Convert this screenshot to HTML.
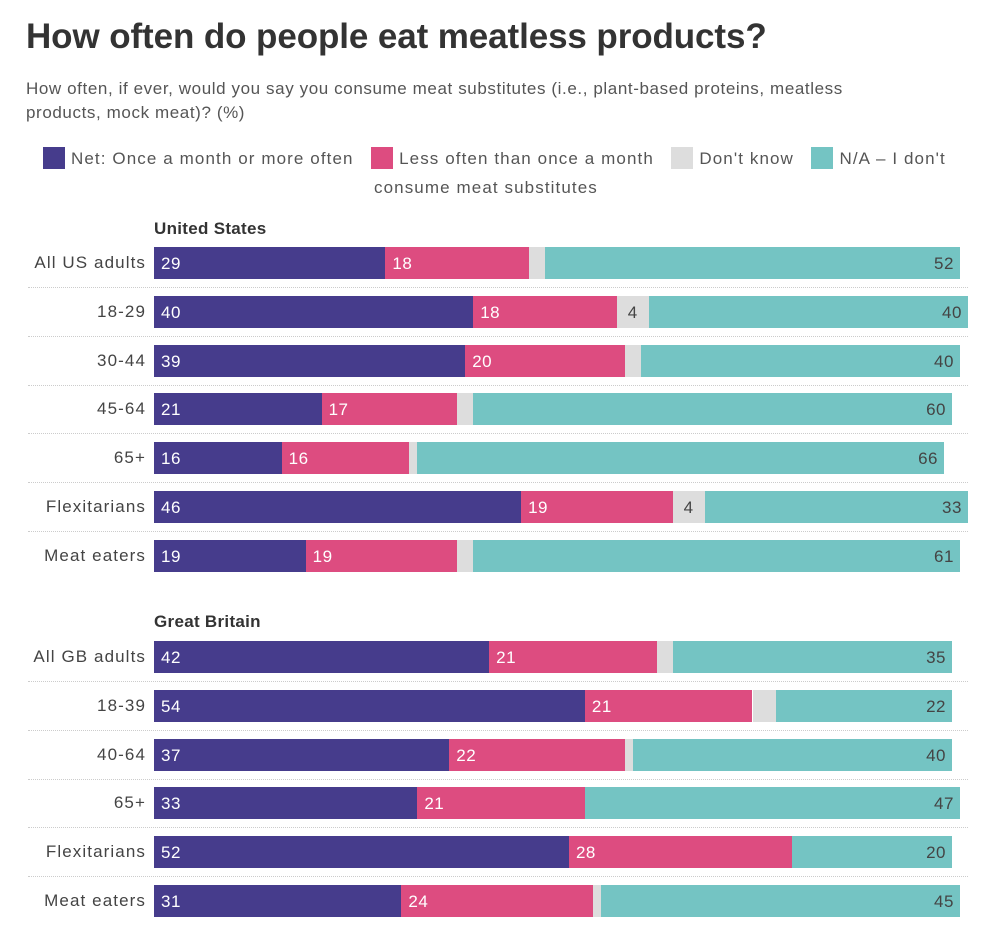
<!DOCTYPE html>
<html><head><meta charset="utf-8"><style>
body{margin:0;width:1006px;height:925px;background:#fff;font-family:"Liberation Sans",sans-serif;color:#333;position:relative;overflow:hidden}
.a{position:absolute}
.lab{position:absolute;font-size:17px;color:#444;text-align:right;width:146px;left:0;letter-spacing:1.1px}
.seg{position:absolute;height:32px;font-size:17px;line-height:34px;box-sizing:border-box;letter-spacing:0.5px}
.sw{display:inline-block;width:22px;height:22px;vertical-align:-5px;margin-right:6px}
.sep{position:absolute;left:28px;width:940px;border-top:1px dotted #ccc}
</style></head><body>
<div class="a" style="left:26px;top:17px;font-size:35px;font-weight:bold;color:#333;letter-spacing:-0.1px">How often do people eat meatless products?</div>
<div class="a" style="left:26px;top:77px;font-size:17px;line-height:24px;color:#555;width:880px;letter-spacing:0.6px">How often, if ever, would you say you consume meat substitutes (i.e., plant-based proteins, meatless products, mock meat)? (%)</div>
<div class="a" style="left:43px;top:144px;font-size:17px;color:#555;line-height:29px;width:950px;letter-spacing:1.1px;white-space:nowrap">
<span><span class="sw" style="background:#463c8c"></span>Net: Once a month or more often</span>&nbsp;&nbsp;
<span><span class="sw" style="background:#dd4c80"></span>Less often than once a month</span>&nbsp;&nbsp;
<span><span class="sw" style="background:#dddddd"></span>Don't know</span>&nbsp;&nbsp;
<span><span class="sw" style="background:#74c4c3"></span>N/A – I don't</span><br><span style="margin-left:331px">consume meat substitutes</span>
</div>
<div id="chart"></div>
<script>
const usCats=["All US adults","18-29","30-44","45-64","65+","Flexitarians","Meat eaters"];
const usNet=[29,40,39,21,16,46,19];
const usLess=[18,18,20,17,16,19,19];
const usDk=[2,4,2,2,1,4,2];
const usNa=[52,40,40,60,66,33,61];
const gbCats=["All GB adults","18-39","40-64","65+","Flexitarians","Meat eaters"];
const gbNet=[42,54,37,33,52,31];
const gbLess=[21,21,22,21,28,24];
const gbDk=[2,3,1,0,0,1];
const gbNa=[35,22,40,47,20,45];
const x0=154, unit=7.98, pitch=48.8;
const colors=["#463c8c","#dd4c80","#dddddd","#74c4c3"];
const tcol=["#fff","#fff","#444","#444"];
const root=document.getElementById('chart');
function xs(v){return v*unit;}
function section(title,titleY,cats,sets,barTop0){
  const t=document.createElement('div');t.className='a';
  
  
  t.style.cssText=`left:154px;top:${titleY}px;font-size:17px;font-weight:bold;color:#333;letter-spacing:0.3px`;
  t.textContent=title;root.appendChild(t);
  cats.forEach((c,i)=>{
    const top=barTop0+i*pitch;
    const l=document.createElement('div');l.className='lab';
    
    
    l.style.top=(top+6)+'px';l.textContent=c;root.appendChild(l);
    let x=x0;
    sets.forEach((s,k)=>{
      const v=s[i];if(v<=0)return;
      const d=document.createElement('div');d.className='seg';
      
      
      const w=xs(v);
      d.style.cssText+=`left:${x}px;top:${top}px;width:${w}px;background:${colors[k]};color:${tcol[k]};`;
      if(k===3){d.style.textAlign='right';d.style.paddingRight='6px';}
      else if(k===2){d.style.textAlign='center';}
      else d.style.paddingLeft='7px';
      if(k!==2||v>=4)d.textContent=v;
      root.appendChild(d);x+=w;
    });
    if(i<cats.length-1){
      const s=document.createElement('div');s.className='sep';
      
      
      s.style.top=(top+40)+'px';root.appendChild(s);
    }
  });
}
section("United States",219,usCats,[usNet,usLess,usDk,usNa],247);
section("Great Britain",612,gbCats,[gbNet,gbLess,gbDk,gbNa],641);
</script>
</body></html>
